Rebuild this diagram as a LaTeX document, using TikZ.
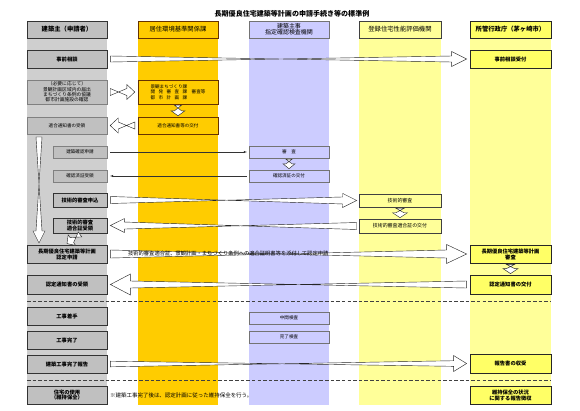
\documentclass[tikz,border=0pt]{standalone}
\usepackage{fontspec}
\setmainfont{Noto Sans CJK JP}
\usetikzlibrary{calc}

\definecolor{bandgray}{HTML}{CFCFCF}
\definecolor{boxgray}{HTML}{C0C0C0}
\definecolor{orng}{HTML}{FFCC00}
\definecolor{lav}{HTML}{CCCCFF}
\definecolor{lyel}{HTML}{FFFF99}
\definecolor{cityyel}{HTML}{FFFF66}

\tikzset{
  sz/.style 2 args={minimum width=#1*0.5mm, minimum height=#2*0.5mm, inner sep=0pt, align=center},
  appl/.style={draw=black!80, line width=1.2pt, fill=boxgray, font=\fontsize{7.5}{8.5}\selectfont\bfseries},
  applthin/.style={draw=black!50, line width=0.6pt, fill=boxgray, font=\fontsize{6.5}{8}\selectfont},
  city/.style={draw=black!85, line width=1.2pt, fill=cityyel, font=\fontsize{7.5}{8.5}\selectfont\bfseries},
  orbox/.style={draw=black!60!orange, line width=0.6pt, fill=orng, font=\fontsize{6.5}{8}\selectfont},
  lvbox/.style={draw=black!55, line width=0.6pt, fill=lav, font=\fontsize{6.5}{8}\selectfont},
  ylbox/.style={draw=black!75, line width=0.8pt, fill=lyel, font=\fontsize{7}{8}\selectfont},
  hollow/.style n args={3}{draw=black!85, line width=0.6pt, fill=white, to path={
    ($(\tikztostart)!#1!90:(\tikztotarget)$)
    -- ($(\tikztotarget)!#3!(\tikztostart)!#1!-90:(\tikztotarget)$)
    -- ($(\tikztotarget)!#3!(\tikztostart)!#2!-90:(\tikztotarget)$)
    -- (\tikztotarget)
    -- ($(\tikztotarget)!#3!(\tikztostart)!#2!90:(\tikztotarget)$)
    -- ($(\tikztotarget)!#3!(\tikztostart)!#1!90:(\tikztotarget)$)
    -- ($(\tikztostart)!#1!-90:(\tikztotarget)$)
    -- cycle}},
  thinarr/.style={draw=black!80, line width=0.5pt, -latex},
  sep/.style={draw=black!75, line width=1pt, dash pattern=on 5pt off 3pt}
}

\begin{document}
\begin{tikzpicture}[x=0.5mm, y=-0.5mm]
\useasboundingbox (0,0) rectangle (580,410);
\fill[white] (0,0) rectangle (580,410);

% lanes
\foreach \l/\r/\c in {27/107/bandgray, 138/218/orng, 249/329/lav, 359/441/lyel, 470/551/lyel}
  {\fill[\c] (\l,21) rectangle (\r,405);}

\node[font=\fontsize{10}{12}\selectfont\bfseries] (title) at (292,14) {長期優良住宅建築等計画の申請手続き等の標準例};

% headers
\node[appl, sz={80}{17}, font=\fontsize{9}{10}\selectfont\bfseries] (h1) at (67,29.5) {建築主（申請者）};
\node[orbox, sz={80}{17}, font=\fontsize{9}{10}\selectfont] (h2) at (178,29.5) {居住環境基準関係課};
\node[lvbox, sz={80}{17}, font=\fontsize{8.5}{9}\selectfont] (h3) at (289,29.5) {建築主事\\指定確認検査機関};
\node[ylbox, sz={82}{17}, font=\fontsize{9}{10}\selectfont] (h4) at (400,29.5) {登録住宅性能評価機関};
\node[city, sz={81}{17}, font=\fontsize{9}{10}\selectfont\bfseries] (h5) at (510.5,29.5) {所管行政庁（茅ヶ崎市）};

% applicant
\node[appl, sz={80}{18}] (r1) at (67,59) {事前相談};
\node[applthin, sz={80}{24}, font=\fontsize{6.8}{7.6}\selectfont] (r2) at (67,92) {（必要に応じて）\\景観計画区域内の届出\\まちづくり条例の協議\\都市計画施設の確認};
\node[applthin, sz={80}{17}] (r3) at (67,125.5) {適合通知書の受領};
\node[applthin, sz={54}{12}] (r4) at (80,152) {建築確認申請};
\node[applthin, sz={54}{12}] (r5) at (80,176) {確認済証受領};
\node[appl, sz={54}{14}] (r6) at (80,200) {技術的審査申込};
\node[appl, sz={54}{15}] (r7) at (80,225.5) {技術的審査\\適合証受領};
\node[appl, sz={80}{18}] (r8) at (67,254) {長期優良住宅建築等計画\\認定申請};
\node[appl, sz={80}{19}] (r9) at (67,284.5) {認定通知書の受領};
\node[appl, sz={80}{18}] (r10) at (67,316) {工事着手};
\node[appl, sz={80}{18}] (r11) at (67,340) {工事完了};
\node[appl, sz={80}{18}] (r12) at (67,364) {建築工事完了報告};
\node[appl, sz={80}{18}] (r13) at (67,395) {住宅の使用\\（維持保全）};

% other lanes
\node[orbox, sz={80}{24}, align=left] (o1) at (178,92)
  {景観まちづくり課\\\makebox[8em]{開\hfill 発\hfill 審\hfill 査\hfill 課}\quad 審査等\\\makebox[8em]{都\hfill 市\hfill 計\hfill 画\hfill 課}};
\node[orbox, sz={80}{17}] (o2) at (178,125.5) {適合通知書等の交付};
\node[lvbox, sz={80}{12}] (l1) at (289,152) {審\quad 査};
\node[lvbox, sz={80}{12}] (l2) at (289,176) {確認済証の交付};
\node[lvbox, sz={80}{12}] (l3) at (289,318) {中間検査};
\node[lvbox, sz={80}{12}] (l4) at (289,337) {完了検査};
\node[ylbox, sz={82}{13}] (y1) at (400,200.5) {技術的審査};
\node[ylbox, sz={82}{14}] (y2) at (400,226) {技術的審査適合証の交付};
\node[city, sz={81}{18}] (k1) at (510.5,59) {事前相談受付};
\node[city, sz={81}{18}] (k2) at (510.5,254) {長期優良住宅建築等計画\\審査};
\node[city, sz={81}{19}] (k3) at (510.5,284.5) {認定通知書の交付};
\node[city, sz={81}{19}] (k4) at (510.5,363.5) {報告書の収受};
\node[city, sz={81}{18}] (k5) at (510.5,395) {維持保全の状況\\に関する報告徴収};

% hollow arrows
\draw[hollow={1.5mm}{3.75mm}{7.5mm}] ([xshift=1.5mm]r1.east) to ([xshift=-1.5mm]k1.west);
\draw[hollow={1.75mm}{3.75mm}{4mm}] ([xshift=1.5mm]r2.east) to ([xshift=-1.5mm]o1.west);
\draw[hollow={1.75mm}{3.5mm}{2.5mm}] ([yshift=-0.5mm]o1.south) to ([yshift=0.5mm]o2.north);
\draw[hollow={1.75mm}{3.75mm}{4mm}] ([xshift=-1.5mm]o2.west) to ([xshift=1.5mm]r3.east);
\draw[hollow={1.5mm}{3mm}{2.5mm}] ([yshift=-0.5mm]l1.south) to ([yshift=0.5mm]l2.north);
\draw[hollow={1.75mm}{3.5mm}{7mm}] ([xshift=1.5mm]r6.east) to ([xshift=-1mm]y1.west);
\draw[hollow={2mm}{3.75mm}{2.5mm}] ([yshift=-0.5mm]y1.south) to ([yshift=0.5mm]y2.north);
\draw[hollow={1.75mm}{3.5mm}{7mm}] ([xshift=-1mm]y2.west) to ([xshift=1.5mm]r7.east);
\draw[hollow={1.5mm}{3.25mm}{3mm}] ([yshift=-0.5mm]r7.south) to ([yshift=0.5mm]r8.north);
\draw[hollow={2mm}{4.75mm}{10mm}] ([xshift=1.5mm]r8.east) to ([xshift=-1.5mm]k2.west);
\draw[hollow={2mm}{3.75mm}{2.5mm}] ([yshift=-0.5mm]k2.south) to ([yshift=0.5mm]k3.north);
\draw[hollow={1.75mm}{5.25mm}{10mm}] ([xshift=-1.5mm]k3.west) to ([xshift=1.5mm]r9.east);
\draw[hollow={1.4mm}{4mm}{6.5mm}] ([xshift=1.5mm]r12.east) to ([xshift=-1.5mm]k4.west);

\coordinate (vtop) at (39,137);
\coordinate (vbot) at (39,243);
\draw[hollow={1.5mm}{3mm}{6mm}] (vtop) to (vbot);

\node[anchor=west, inner sep=0pt, font=\fontsize{7.5}{8}\selectfont] (a8txt) at (128,253.5)
  {技術的審査適合証、景観計画・まちづくり条例への適合証明書等を添付して認定申請};

% thin arrows
\draw[thinarr] ([xshift=1.5mm]r4.east) -- ([xshift=-1mm]l1.west);
\draw[thinarr] ([xshift=-1mm]l2.west) -- ([xshift=1.5mm]r5.east);

% separators
\coordinate (s1a) at (27,301);
\coordinate (s1b) at (551,301);
\coordinate (s2a) at (27,380);
\coordinate (s2b) at (551,380);
\draw[sep] (s1a) -- (s1b);
\draw[sep] (s2a) -- (s2b);

\node[anchor=west, inner sep=0pt, font=\fontsize{7.8}{8}\selectfont] (note) at (110,395)
  {※建築工事完了後は、認定計画に従った維持保全を行う。};
\end{tikzpicture}
\end{document}
